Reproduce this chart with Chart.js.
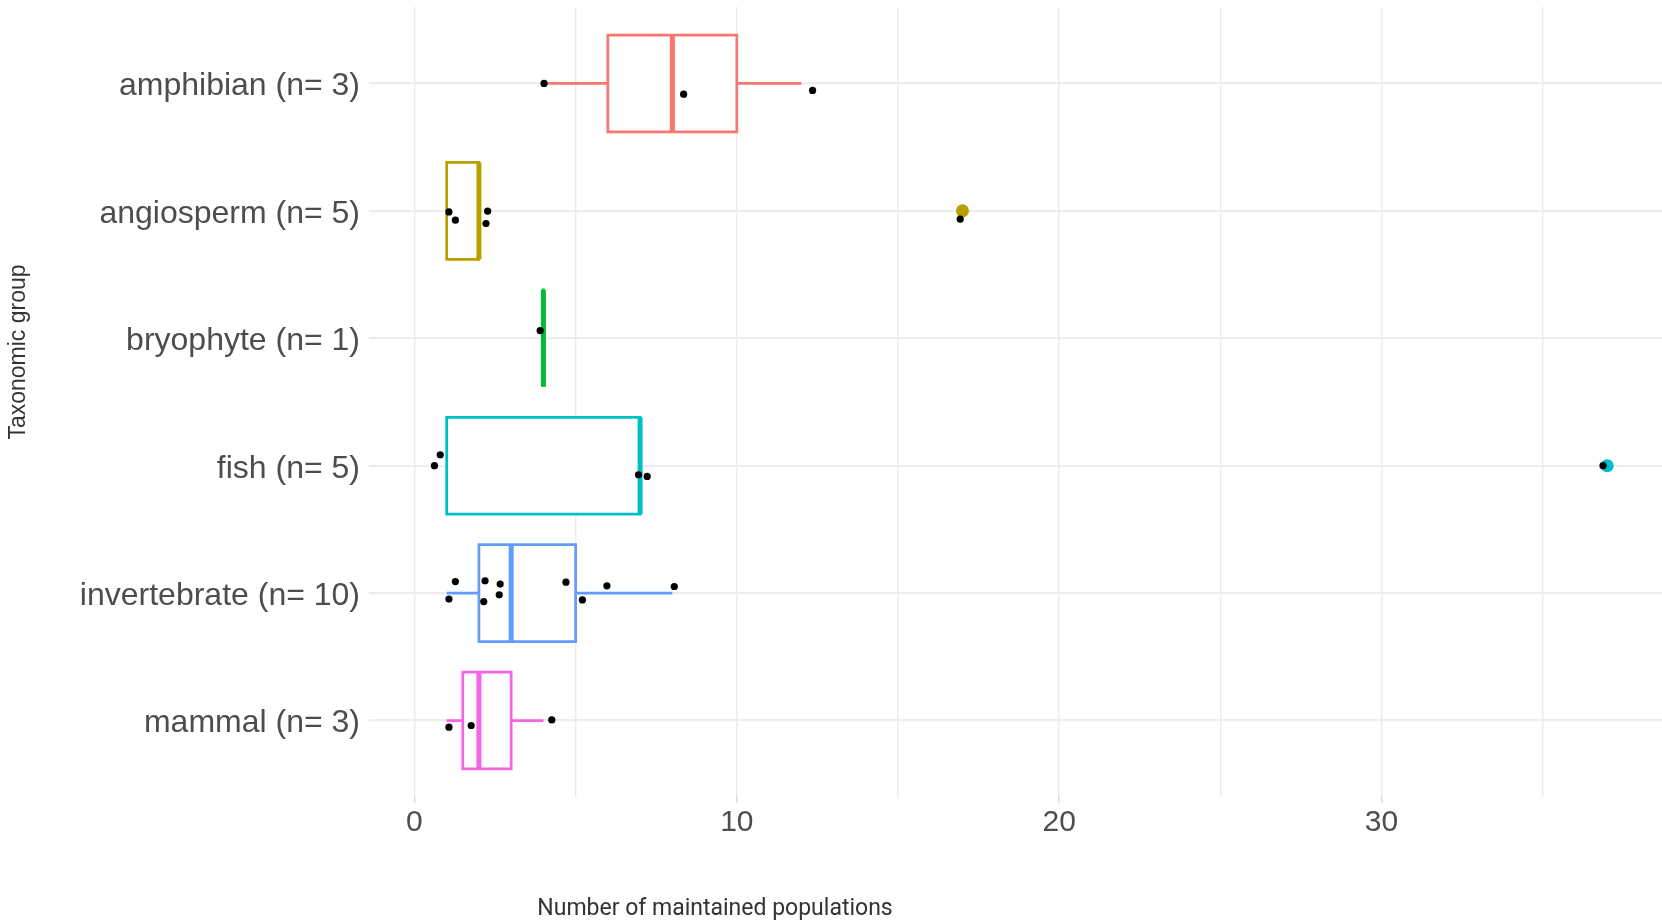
<!DOCTYPE html>
<html>
<head>
<meta charset="utf-8">
<title>Maintained populations by taxonomic group</title>
<script src="https://cdn.jsdelivr.net/npm/chart.js@4.4.1/dist/chart.umd.min.js"></script>
<style>
    html, body { margin: 0; padding: 0; background: #fff; }
    #wrap { position: relative; width: 1662px; height: 920px; }
</style>
</head>
<body>
<div id="wrap"><canvas id="boxChart" width="1662" height="920"></canvas></div>
<script>
// ============================================
// data
// ============================================
const groups = ['amphibian', 'angiosperm', 'bryophyte', 'fish', 'invertebrate', 'mammal'];
const groupCounts = [3, 5, 1, 5, 10, 3];
const groupColors = ['#F8766D', '#B79F00', '#00BA38', '#00BFC4', '#619CFF', '#F564E3'];

// box statistics per group
const whiskerLow  = [4, 1, 4, 1, 1, 1];
const boxQ1       = [6, 1, 4, 1, 2, 1.5];
const boxMedian   = [8, 2, 4, 7, 3, 2];
const boxQ3       = [10, 2, 4, 7, 5, 3];
const whiskerHigh = [12, 2, 4, 7, 8, 4];
const outliers    = [[], [17], [], [37], [], []];

// jittered observations: x value and vertical offset (in rows)
const jitterX = [
    [4.02, 8.35, 12.35],
    [1.07, 1.27, 2.27, 2.22, 16.93],
    [3.9],
    [0.8, 0.62, 6.95, 7.22, 36.87],
    [1.27, 1.07, 2.19, 2.15, 2.66, 2.63, 4.70, 5.21, 5.97, 8.06],
    [1.07, 1.76, 4.26]
];
const jitterY = [
    [0, 0.084, 0.055],
    [0.008, 0.073, 0.002, 0.099, 0.065],
    [-0.06],
    [-0.086, 0, 0.071, 0.084, 0],
    [-0.091, 0.047, -0.097, 0.066, -0.071, 0.013, -0.086, 0.053, -0.057, -0.052],
    [0.052, 0.039, -0.005]
];

const xTicks = [0, 5, 10, 15, 20, 25, 30, 35];
const xTickLabels = ['0', '', '10', '', '20', '', '30', ''];
const xTitle = 'Number of maintained populations';
const yTitle = 'Taxonomic group';

const groupLabels = groups.map((g, i) => g + ' (n= ' + groupCounts[i] + ')');
const HALF = 0.38; // half box height, in rows

// ============================================
// build datasets (first one is drawn on top)
// ============================================
const jitterPoints = [];
jitterX.forEach((xs, i) => {
    xs.forEach((x, k) => jitterPoints.push({ x: x, y: i + jitterY[i][k] }));
});

const datasets = [{
    data: jitterPoints,
    pointRadius: 3.6,
    pointBackgroundColor: '#000',
    pointBorderWidth: 0
}];

groups.forEach((g, i) => {
    datasets.push({
        data: outliers[i].map(v => ({ x: v, y: i })),
        pointRadius: 6.5,
        pointBackgroundColor: groupColors[i],
        pointBorderWidth: 0
    });
});

groups.forEach((g, i) => {
    datasets.push({
        data: [{ x: boxMedian[i], y: i - HALF }, { x: boxMedian[i], y: i + HALF }],
        showLine: true,
        borderColor: groupColors[i],
        borderWidth: 5,
        borderCapStyle: 'butt',
        pointRadius: 0
    });
});

groups.forEach((g, i) => {
    datasets.push({
        data: [
            { x: boxQ1[i], y: i - HALF },
            { x: boxQ3[i], y: i - HALF },
            { x: boxQ3[i], y: i + HALF },
            { x: boxQ1[i], y: i + HALF },
            { x: boxQ1[i], y: i - HALF }
        ],
        showLine: true,
        borderColor: groupColors[i],
        borderWidth: 2.7,
        borderCapStyle: 'square',
        borderJoinStyle: 'miter',
        backgroundColor: '#ffffff',
        fill: 'shape',
        pointRadius: 0
    });
});

groups.forEach((g, i) => {
    datasets.push({
        data: [
            { x: whiskerLow[i], y: i },
            { x: boxQ1[i], y: i },
            { x: null, y: null },
            { x: boxQ3[i], y: i },
            { x: whiskerHigh[i], y: i }
        ],
        showLine: true,
        spanGaps: false,
        borderColor: groupColors[i],
        borderWidth: 2.7,
        borderCapStyle: 'butt',
        pointRadius: 0
    });
});

// axis titles sit off-centre in the reference, so draw them by hand
const axisTitles = {
    id: 'axisTitles',
    afterDraw(chart) {
        const ctx = chart.ctx;
        ctx.save();
        ctx.fillStyle = '#333333';
        ctx.textAlign = 'center';
        ctx.textBaseline = 'alphabetic';
        ctx.font = '23px Roboto';
        ctx.fillText(xTitle, 715, 915);
        ctx.translate(25, 352);
        ctx.rotate(-Math.PI / 2);
        ctx.font = '23px "Liberation Sans"';
        ctx.fillText(yTitle, 0, 0);
        ctx.restore();
    }
};

const ctx = document.getElementById('boxChart').getContext('2d');
new Chart(ctx, {
    type: 'scatter',
    data: { datasets: datasets },
    options: {
        responsive: false,
        animation: false,
        layout: { autoPadding: false, padding: { top: 7, right: 0, bottom: 0, left: 0 } },
        plugins: {
            legend: { display: false },
            tooltip: { enabled: false }
        },
        scales: {
            x: {
                type: 'linear',
                min: -1.41,
                max: 38.7,
                afterFit: scale => {
                    scale.height = 123;
                    scale.paddingLeft = 0;
                    scale.paddingRight = 0;
                },
                afterBuildTicks: scale => { scale.ticks = xTicks.map(v => ({ value: v })); },
                border: { display: false },
                grid: {
                    color: '#ebebeb',
                    lineWidth: 1.4,
                    drawTicks: true,
                    tickLength: 6,
                    tickColor: c => (c.tick && c.tick.value % 10 === 0) ? '#d9d9d9' : 'rgba(0,0,0,0)'
                },
                ticks: {
                    autoSkip: false,
                    maxRotation: 0,
                    padding: 2,
                    color: '#4d4d4d',
                    font: { family: '"Liberation Sans", Arial, sans-serif', size: 30 },
                    callback: (v) => xTickLabels[xTicks.indexOf(v)]
                }
            },
            y: {
                type: 'linear',
                reverse: true,
                min: -0.6,
                max: 5.6,
                afterFit: scale => {
                    scale.width = 369;
                    scale.paddingTop = 0;
                    scale.paddingBottom = 0;
                },
                afterBuildTicks: scale => { scale.ticks = groups.map((g, i) => ({ value: i })); },
                border: { display: false },
                grid: {
                    color: '#ededed',
                    lineWidth: 2.3,
                    drawTicks: false
                },
                ticks: {
                    autoSkip: false,
                    padding: 9,
                    labelOffset: 3,
                    color: '#4d4d4d',
                    font: { family: '"Liberation Sans", Arial, sans-serif', size: 32 },
                    callback: (v) => groupLabels[v]
                }
            }
        }
    },
    plugins: [axisTitles]
});
</script>
</body>
</html>
